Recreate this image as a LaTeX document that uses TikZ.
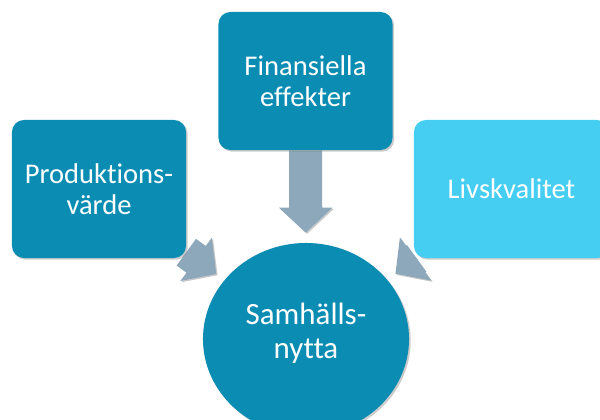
\documentclass[tikz,border=0pt]{standalone}
\usepackage{fontspec}
\setmainfont[Ligatures=NoCommon]{Carlito}
\usetikzlibrary{shapes.geometric,shadows,backgrounds,arrows.meta}

\definecolor{tealbox}{HTML}{0B8CB2}
\definecolor{skybox}{HTML}{46CDF2}
\definecolor{flowgray}{HTML}{8CA8BA}

\tikzstyle{box}=[rounded corners=0.3cm, minimum width=4.35cm, minimum height=3.45cm, align=center, text=white,
	font=\fontsize{20.3}{22}\selectfont, drop shadow={shadow xshift=1.2pt, shadow yshift=-1.2pt, opacity=0.4}]
\tikzstyle{flow}=[draw=flowgray, line width=0.825cm, -{Triangle[length=0.625cm, width=1.3cm]}, shorten >=0.25cm,
	preaction={draw=black!60, opacity=0.35, transform canvas={shift={(0.9pt,-0.9pt)}}}]

\begin{document}
\begin{tikzpicture}[x=0.025cm, y=-0.025cm]
	\useasboundingbox (0,0) rectangle (600,420);
	\clip (0,0) rectangle (600,420);
	\node[box, fill=tealbox] (Prod) at (99,189) {Produktions-\\värde};
	\node[box, fill=tealbox] (Fin) at (305.5,81) {Finansiella\\effekter};
	\node[box, fill=skybox, minimum width=4.875cm] (Liv) at (511.5,189) {Livskvalitet};
	\node[box, ellipse, fill=tealbox, minimum width=5.15cm, minimum height=4.8cm, inner sep=0pt,
		font=\fontsize{22}{24}\selectfont] (Samh) at (306,339) {Samhälls-\\nytta\\[-12pt]};
	\begin{scope}[on background layer]
		\foreach \source in {Prod, Fin, Liv}
			\draw[flow] (\source) -- (Samh);
	\end{scope}
\end{tikzpicture}
\end{document}
